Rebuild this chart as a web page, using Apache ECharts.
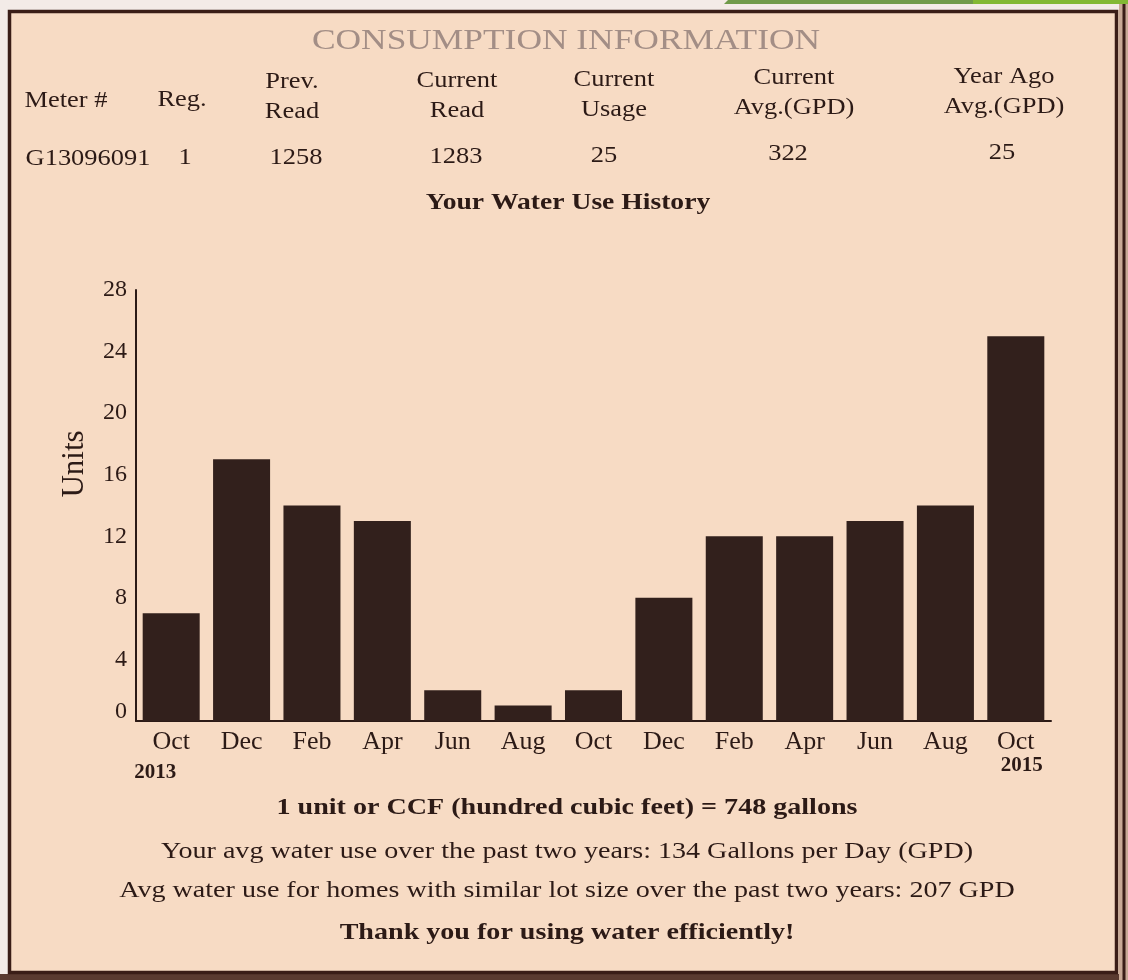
<!DOCTYPE html>
<html><head><meta charset="utf-8">
<script src="https://cdn.jsdelivr.net/npm/echarts@6/dist/echarts.min.js"></script>
<style>html,body{margin:0;padding:0;background:#f7dbc4}#c{width:1128px;height:980px}</style>
</head><body><div id="c"></div>
<script>
// ---- data ----
const months = ['Oct','Dec','Feb','Apr','Jun','Aug','Oct','Dec','Feb','Apr','Jun','Aug','Oct'];
const years  = ['2013','','','','','','','','','','','','2015'];
const usage  = [7,17,14,13,2,1,2,8,12,12,13,14,25];
const yTicks = [0,4,8,12,16,20,24,28];
const headerTitle = 'CONSUMPTION INFORMATION';
const tableHeaders = [['Meter #'],['Reg.'],['Prev.','Read'],['Current','Read'],['Current','Usage'],['Current','Avg.(GPD)'],['Year Ago','Avg.(GPD)']];
const tableValues = ['G13096091','1','1258','1283','25','322','25'];
const chartTitle = 'Your Water Use History';
const axisName = 'Units';
const footLines = [
  '1 unit or CCF (hundred cubic feet) = 748 gallons',
  'Your avg water use over the past two years: 134 Gallons per Day (GPD)',
  'Avg water use for homes with similar lot size over the past two years: 207 GPD',
  'Thank you for using water efficiently!'
];
const footBold = [true,false,false,true];

// ---- layout / style ----
const FONT = 'Liberation Serif';
const INK = '#2c1a16';
const PAPER = '#f7dbc4';
const SX = 1.15;
const headerCols = [66,182,292,457,614,794,1004];
const valueCols  = [88,185,296,456,604,788,1002];
const tilt = x => -6*(x-66)/(1004-66);

function txt(text, x, y, size, opts={}) {
  return {
    type:'text', x:x, y:y, scaleX: opts.sx || SX, scaleY: 1, z: 10,
    rotation: opts.rot || 0,
    style:{
      text:text, x:0, y:0, fontSize:size, fontFamily:FONT,
      fontWeight: opts.bold ? 'bold' : 'normal',
      fill: opts.color || INK,
      textAlign: opts.align || 'center', textVerticalAlign:'middle',
      align: opts.align || 'center', verticalAlign:'middle'
    }
  };
}

const g = [];
// surroundings & frame (outside the plot area only)
g.push({type:'rect', shape:{x:0,y:0,width:1128,height:10}, style:{fill:'#f3ebe7'}, z:1});
g.push({type:'rect', shape:{x:0,y:0,width:8,height:980}, style:{fill:'#f3ebe7'}, z:1});
g.push({type:'rect', shape:{x:0,y:974,width:1128,height:6}, style:{fill:'#5a3a30'}, z:1});
g.push({type:'polygon', shape:{points:[[728,0],[1128,0],[1128,4],[724,4]]}, style:{fill:'#6f9a4a'}, z:2});
g.push({type:'rect', shape:{x:973,y:0,width:155,height:4}, style:{fill:'#82b834'}, z:2});
g.push({type:'rect', shape:{x:9.5,y:11.5,width:1107,height:961}, style:{fill:'none', stroke:'#3a1d17', lineWidth:3.5}, z:3});
g.push({type:'rect', shape:{x:1119,y:4,width:9,height:976}, style:{fill:'#c9a996'}, z:2});
g.push({type:'line', shape:{x1:1124,y1:4,x2:1124,y2:980}, style:{stroke:'#3a1d17', lineWidth:3}, z:3});

g.push(txt(headerTitle, 566, 41, 29, {color:'#a38e86', sx:1.22}));
tableHeaders.forEach((h,i)=>{
  const cx = headerCols[i], t = tilt(cx);
  if (h.length === 1) g.push(txt(h[0], cx, 101+t, 23));
  else { g.push(txt(h[0], cx, 83+t, 23)); g.push(txt(h[1], cx, 113+t, 23)); }
});
tableValues.forEach((v,i)=>{
  const cx = valueCols[i];
  g.push(txt(v, cx, 159+tilt(cx), 23));
});
g.push(txt(chartTitle, 568, 203, 23, {bold:true, sx:1.2}));
g.push(txt(axisName, 75, 464, 31, {rot:Math.PI/2, sx:1}));
const footY = [808, 852, 891, 933];
footLines.forEach((l,i)=> g.push(txt(l, 567, footY[i], 24, {bold:footBold[i], sx:1.17})));

const chart = echarts.init(document.getElementById('c'));
chart.setOption({
  animation:false,
  backgroundColor: PAPER,
  grid:{left:136, right:77, top:290, bottom:259},
  xAxis:{
    type:'category', data:months,
    axisLine:{lineStyle:{color:INK, width:2}},
    axisTick:{show:false},
    axisLabel:{
      interval:0, margin:8,
      formatter:(v,i)=> years[i] ? '{m|'+v+'}\n{'+(i===0?'ya':'yb')+'|'+years[i]+'}' : '{m|'+v+'}',
      rich:{
        m:{fontFamily:FONT, fontSize:26, color:INK, lineHeight:27},
        ya:{fontFamily:FONT, fontSize:21, fontWeight:'bold', color:INK, lineHeight:33, padding:[0,32,0,0]},
        yb:{fontFamily:FONT, fontSize:21, fontWeight:'bold', color:INK, lineHeight:20, padding:[0,0,0,12]}
      }
    }
  },
  yAxis:{
    type:'value', min:yTicks[0], max:yTicks[yTicks.length-1], interval:yTicks[1]-yTicks[0],
    axisLine:{show:true, lineStyle:{color:INK, width:2}},
    axisTick:{show:false},
    splitLine:{show:false},
    axisLabel:{
      fontFamily:FONT, fontSize:24, color:INK, margin:9,
      formatter: v => v === 0 ? '{z|0}' : String(v),
      rich:{ z:{fontFamily:FONT, fontSize:24, color:INK, padding:[0,0,18,0]} }
    }
  },
  series:[{
    type:'bar', data:usage, barCategoryGap:'19%',
    itemStyle:{color:'#32201c'}
  }],
  graphic:{elements:g}
});
</script></body></html>
